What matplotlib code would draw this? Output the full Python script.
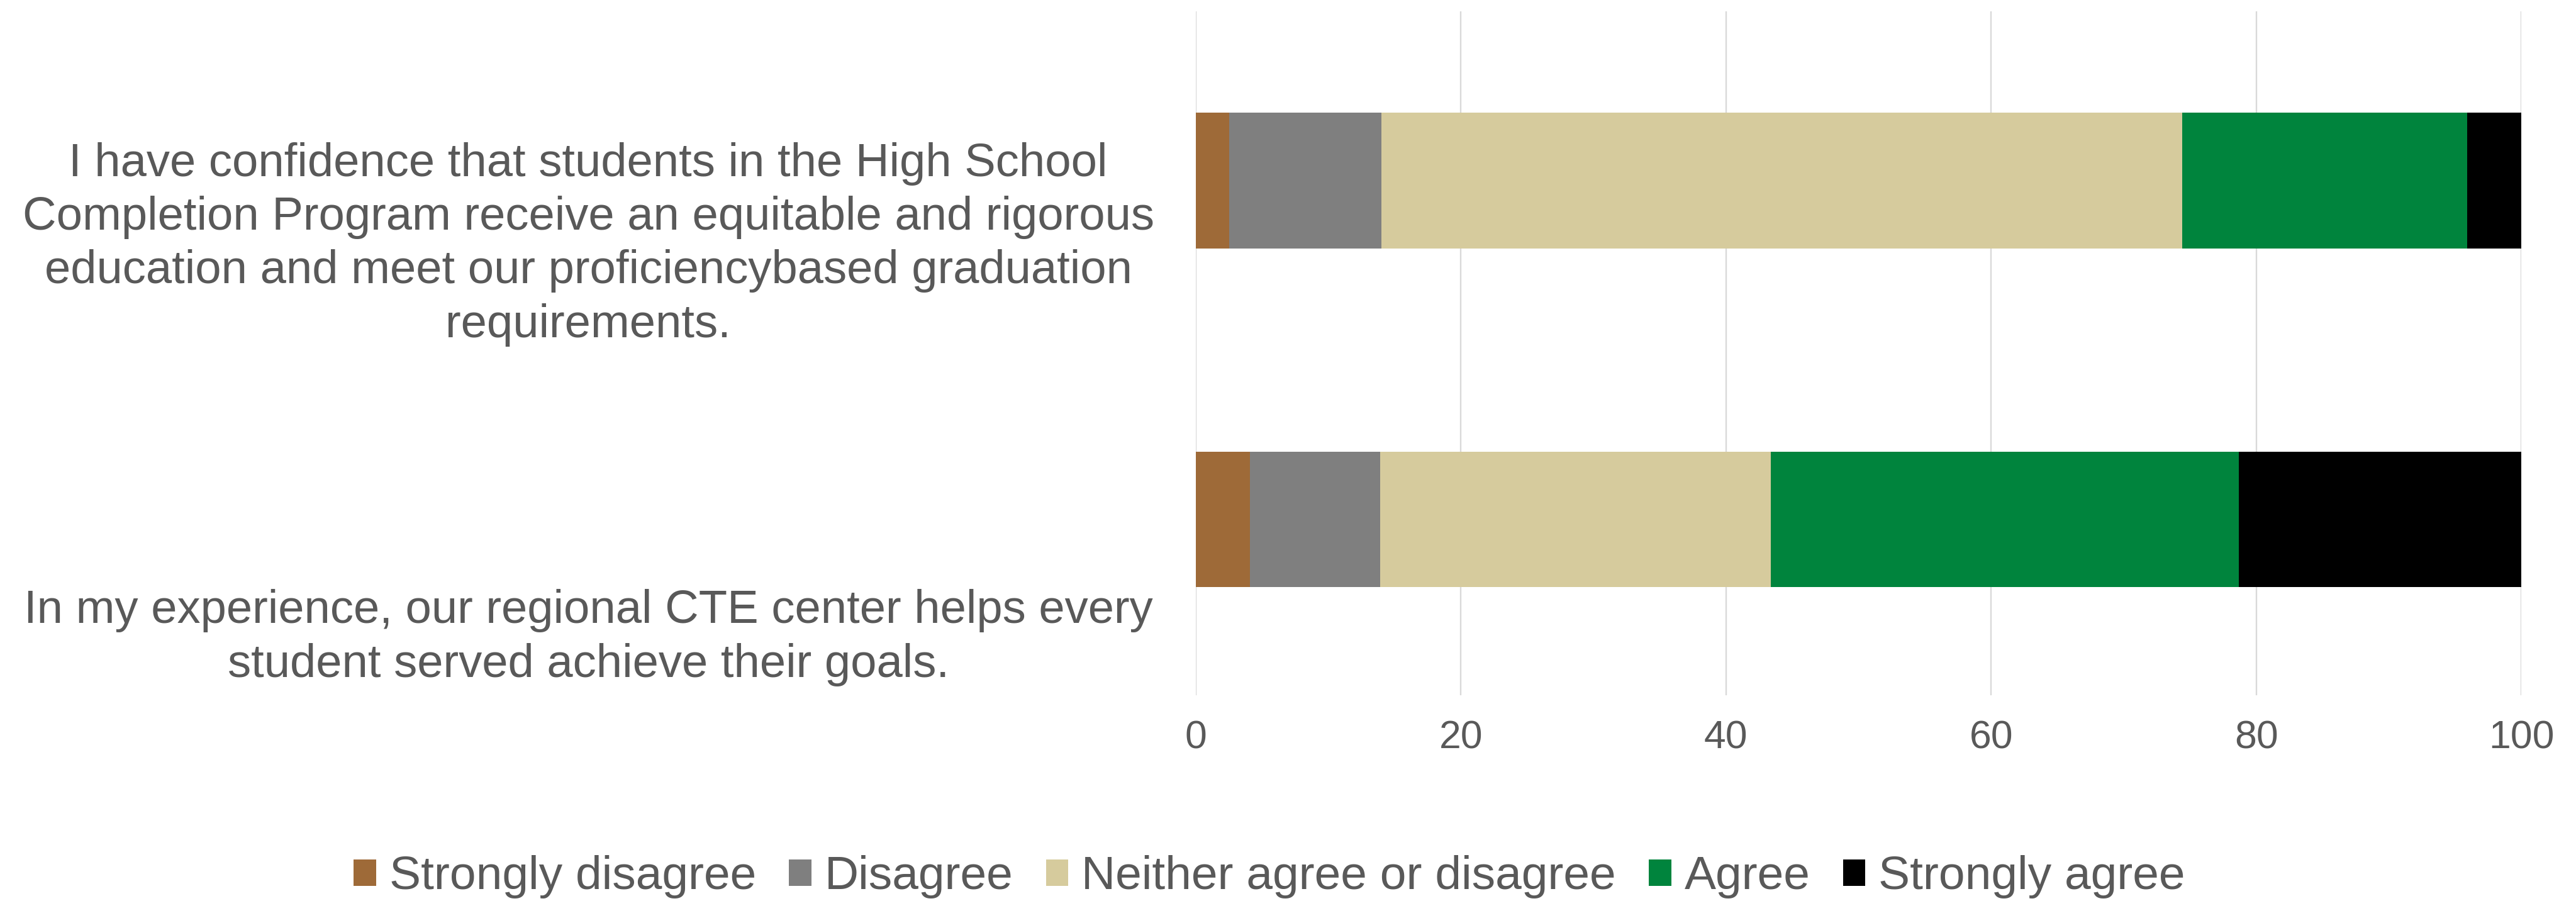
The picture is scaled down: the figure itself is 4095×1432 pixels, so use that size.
import matplotlib
matplotlib.use("Agg")
import matplotlib.pyplot as plt
from matplotlib.patches import Patch
from matplotlib.transforms import blended_transform_factory
import numpy as np

# Survey statements (top to bottom)
statements = [
    "I have confidence that students in the High School\n"
    "Completion Program receive an equitable and rigorous\n"
    "education and meet our proficiencybased graduation\n"
    "requirements.",
    "In my experience, our regional CTE center helps every\n"
    "student served achieve their goals.",
]

responses = ["Strongly disagree", "Disagree", "Neither agree or disagree",
             "Agree", "Strongly agree"]

# Percent of respondents per response, one list per statement order above
strongly_disagree = [2.5, 4.1]
disagree = [11.5, 9.8]
neither = [60.4, 29.5]
agree = [21.5, 35.3]
strongly_agree = [4.1, 21.3]

colors = ["#9E6A38", "#7F7F7F", "#D6CB9D", "#00843D", "#000000"]
text_color = "#595959"

plt.rcParams["font.family"] = ["Liberation Sans", "DejaVu Sans"]

fig = plt.figure(figsize=(40.95, 14.32), dpi=100)
ax = fig.add_axes([0.4642, 1 - 1105 / 1432, 0.9788 - 0.4642, (1105 - 18) / 1432])

series = [strongly_disagree, disagree, neither, agree, strongly_agree]
y = np.arange(len(statements))
left = np.zeros(len(statements))
for vals, col in zip(series, colors):
    vals = np.asarray(vals, dtype=float)
    ax.barh(y, vals, left=left, height=0.40, color=col, zorder=3)
    left += vals

ax.set_xlim(0, 100)
ax.set_ylim(1.52, -0.5)
ax.set_xticks(np.arange(0, 101, 20))
ax.grid(axis="x", color="#D9D9D9", linewidth=1.7, zorder=0)
ax.tick_params(axis="x", length=0, pad=28, labelsize=45, labelcolor=text_color)
ax.set_yticks([])
for s in ax.spines.values():
    s.set_visible(False)

# Category labels, centred in the left margin beneath each bar
label_offsets = [0.188, 0.35]
label_tf = blended_transform_factory(fig.transFigure, ax.transData)
for yi, (txt, off) in enumerate(zip(statements, label_offsets)):
    ax.text(935 / 4095, yi + off, txt, transform=label_tf,
            ha="center", va="center", fontsize=53.5, color=text_color,
            linespacing=1.3)

handles = [Patch(facecolor=c, edgecolor="none") for c in colors]
fig.legend(handles, responses, loc="center", bbox_to_anchor=(2018 / 4095, 1 - 1394 / 1432),
           ncol=5, frameon=False, fontsize=54, labelcolor=text_color,
           handlelength=0.47, handleheight=0.5, handletextpad=0.28,
           columnspacing=0.7, borderpad=0)

fig.savefig("out.png", dpi=100)
